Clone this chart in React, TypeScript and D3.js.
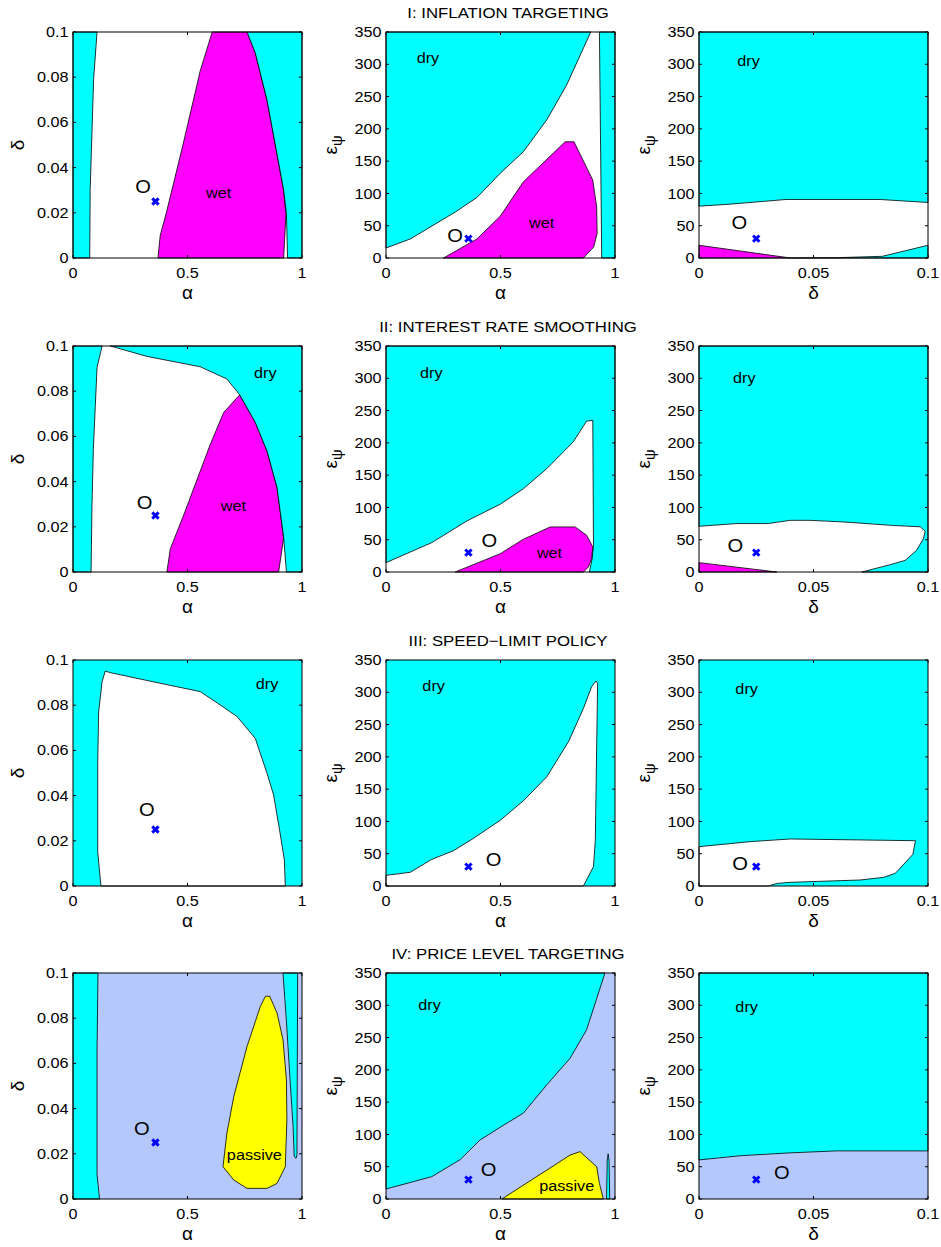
import React, { useEffect, useRef } from "react";
import * as d3 from "d3";

type Pt = [number, number];

const rowTitles = [
    "I: INFLATION TARGETING",
    "II: INTEREST RATE SMOOTHING",
    "III: SPEED\u2212LIMIT POLICY",
    "IV: PRICE LEVEL TARGETING",
];

const alphaTicks = [0, 0.5, 1];
const deltaTicks = [0, 0.02, 0.04, 0.06, 0.08, 0.1];
const deltaWideTicks = [0, 0.05, 0.1];
const epsTicks = [0, 50, 100, 150, 200, 250, 300, 350];

// estimated point (blue cross) in alpha / delta / eps_psi
const estAlpha = 0.36;
const estDelta = 0.025;
const estEps = 30;

// I: inflation targeting
const itAlphaDeltaDryLeft: Pt[] = [[0, 0], [0.073, 0], [0.075, 0.03], [0.09, 0.079], [0.105, 0.1], [0, 0.1]];
const itAlphaDeltaWet: Pt[] = [[0.608, 0.1], [0.76, 0.1], [0.796, 0.0907], [0.847, 0.07], [0.92, 0.03], [0.93, 0.0197], [0.92, 0], [0.371, 0], [0.381, 0.01], [0.41, 0.021], [0.48, 0.05], [0.556, 0.083]];
const itAlphaDeltaDryRight: Pt[] = [[0.76, 0.1], [1, 0.1], [1, 0], [0.937, 0], [0.932, 0.0197], [0.92, 0.03], [0.847, 0.07], [0.796, 0.0907]];
const itAlphaEpsDry: Pt[] = [[0, 15.5], [0.106, 29.5], [0.302, 71], [0.397, 93.7], [0.4985, 131], [0.6, 164.7], [0.702, 213.9], [0.789, 268], [0.894, 350], [0, 350]];
const itAlphaEpsDryRight: Pt[] = [[0.932, 350], [1, 350], [1, 0], [0.942, 0]];
const itAlphaEpsWet: Pt[] = [[0.251, 0], [0.397, 29.5], [0.4985, 64.7], [0.6, 118], [0.782, 180], [0.821, 180], [0.903, 120.6], [0.92, 79], [0.922, 37.8], [0.907, 17], [0.862, 0]];
const itDeltaEpsDry: Pt[] = [[0, 80.3], [0.0136, 83.4], [0.038, 90.6], [0.079, 90.6], [0.1, 86], [0.1, 350], [0, 350]];
const itDeltaEpsWet: Pt[] = [[0, 0], [0, 19.7], [0.04, 0]];
const itDeltaEpsDryLow: Pt[] = [[0.04, 0], [0.06, 0.5], [0.08, 2.6], [0.1, 19.7], [0.1, 0]];

// II: interest rate smoothing
const irsAlphaDeltaDryLeft: Pt[] = [[0, 0], [0.079, 0], [0.083, 0.03], [0.089, 0.0547], [0.105, 0.0905], [0.127, 0.1], [0, 0.1]];
const irsAlphaDeltaDryRight: Pt[] = [[0.163, 0.1], [1, 0.1], [1, 0], [0.932, 0], [0.92, 0.0152], [0.891, 0.0374], [0.847, 0.0536], [0.796, 0.0662], [0.728, 0.0784], [0.672, 0.0854], [0.556, 0.0908], [0.323, 0.0954]];
const irsAlphaDeltaWet: Pt[] = [[0.728, 0.0784], [0.796, 0.0662], [0.847, 0.0536], [0.891, 0.0374], [0.92, 0.0152], [0.898, 0], [0.41, 0], [0.425, 0.0103], [0.483, 0.0251], [0.6, 0.0566], [0.658, 0.0706]];
const irsAlphaEpsDry: Pt[] = [[0, 14.5], [0.2, 45.5], [0.353, 79], [0.499, 105], [0.6, 129], [0.702, 160], [0.818, 201.6], [0.876, 233.7], [0.903, 234.8], [0.906, 41], [0.9, 20], [0.888, 0], [1, 0], [1, 350], [0, 350]];
const irsAlphaEpsWet: Pt[] = [[0.302, 0], [0.499, 28.4], [0.6, 50.7], [0.717, 69.8], [0.826, 69.8], [0.876, 56.9], [0.903, 38.8], [0.898, 20.7], [0.884, 7.8], [0.862, 0]];
const irsDeltaEpsDry: Pt[] = [[0, 70.8], [0.0165, 75], [0.0303, 75], [0.0398, 80], [0.0485, 80], [0.063, 77.5], [0.085, 72], [0.0966, 70], [0.0988, 63], [0.098, 51.7], [0.095, 33.6], [0.09, 18], [0.0835, 11.4], [0.0711, 0], [0.1, 0], [0.1, 350], [0, 350]];
const irsDeltaEpsWet: Pt[] = [[0, 0], [0, 14.5], [0.034, 0]];

// III: speed-limit policy (white = determinate region on cyan)
const slAlphaDeltaOk: Pt[] = [[0.122, 0], [0.108, 0.0152], [0.108, 0.0543], [0.112, 0.077], [0.127, 0.0904], [0.141, 0.0951], [0.163, 0.0944], [0.367, 0.09], [0.556, 0.086], [0.643, 0.0801], [0.716, 0.075], [0.796, 0.0653], [0.847, 0.0499], [0.876, 0.0403], [0.902, 0.0248], [0.923, 0.0115], [0.927, 0]];
const slAlphaEpsOk: Pt[] = [[0, 0], [0, 16.5], [0.106, 21.2], [0.2, 41.3], [0.295, 54.7], [0.382, 73.8], [0.5, 102], [0.6, 132], [0.702, 169], [0.797, 223.5], [0.862, 275], [0.898, 308.7], [0.917, 317.5], [0.924, 314], [0.914, 71], [0.906, 30], [0.862, 0]];
const slDeltaEpsOk: Pt[] = [[0, 0], [0, 60.9], [0.0223, 68.7], [0.0398, 72.8], [0.0937, 70.2], [0.0945, 70.2], [0.0934, 49], [0.0857, 19.6], [0.0806, 13.4], [0.0704, 9.3], [0.0398, 5.7], [0.034, 4], [0.0303, 0]];

// IV: price level targeting
const pltAlphaDeltaDryLeft: Pt[] = [[0, 0], [0.116, 0], [0.105, 0.0108], [0.105, 0.0654], [0.109, 0.1], [0, 0.1]];
const pltAlphaDeltaDryRight: Pt[] = [[0.917, 0.1], [0.932, 0.0787], [0.946, 0.0557], [0.961, 0.032], [0.966, 0.0188], [0.974, 0.018], [0.978, 0.0196], [0.981, 0.1]];
const pltAlphaDeltaPassive: Pt[] = [[0.76, 0.0047], [0.702, 0.0084], [0.655, 0.0143], [0.672, 0.0291], [0.702, 0.0453], [0.76, 0.0675], [0.818, 0.0852], [0.84, 0.0897], [0.859, 0.0897], [0.891, 0.0823], [0.917, 0.0705], [0.932, 0.0527], [0.934, 0.035], [0.927, 0.0143], [0.891, 0.0069], [0.847, 0.0047]];
const pltAlphaEpsDry: Pt[] = [[0, 15.5], [0.2, 34.6], [0.324, 61], [0.411, 91.5], [0.506, 112.7], [0.6, 133], [0.702, 176.8], [0.804, 218], [0.876, 262], [0.956, 350], [0, 350]];
const pltAlphaEpsPassive: Pt[] = [[0.506, 0], [0.804, 68], [0.847, 73.4], [0.92, 50], [0.932, 24], [0.949, 0]];
const pltAlphaEpsDryThin: Pt[] = [[0.963, 0], [0.966, 60], [0.97, 70], [0.974, 60], [0.977, 0]];
const pltDeltaEpsDry: Pt[] = [[0, 60.5], [0.018, 67], [0.04, 71.5], [0.06, 74.5], [0.1, 74.5], [0.1, 350], [0, 350]];

const CYAN = "#00FFFF";
const MAGENTA = "#FF00FF";
const YELLOW = "#FFFF00";
const LIGHTBLUE = "#B4C8FC";

const FONT = "'Liberation Sans', Arial, Helvetica, sans-serif";
const textStretch = 1.12;

const colLeft = [73, 386, 699];
const rowTop = [32, 346, 660, 973];
const plotW = 229;
const plotH = 226;

const axes = {
    alpha: { domain: [0, 1], ticks: alphaTicks, label: "α" },
    delta: { domain: [0, 0.1], ticks: deltaTicks, label: "δ" },
    deltaWide: { domain: [0, 0.1], ticks: deltaWideTicks, label: "δ" },
    eps: { domain: [0, 350], ticks: epsTicks, label: "eps" },
};

const panels = [
    { row: 0, col: 0, x: axes.alpha, y: axes.delta, bg: "#fff", est: [estAlpha, estDelta],
      regions: [[itAlphaDeltaWet, MAGENTA], [itAlphaDeltaDryLeft, CYAN], [itAlphaDeltaDryRight, CYAN]],
      labels: [["wet", 0.636, 0.0286], ["O", 0.306, 0.0315]] },
    { row: 0, col: 1, x: axes.alpha, y: axes.eps, bg: "#fff", est: [estAlpha, estEps],
      regions: [[itAlphaEpsDry, CYAN], [itAlphaEpsDryRight, CYAN], [itAlphaEpsWet, MAGENTA]],
      labels: [["dry", 0.183, 310], ["wet", 0.68, 54], ["O", 0.302, 35]] },
    { row: 0, col: 2, x: axes.deltaWide, y: axes.eps, bg: "#fff", est: [estDelta, estEps],
      regions: [[itDeltaEpsDry, CYAN], [itDeltaEpsWet, MAGENTA], [itDeltaEpsDryLow, CYAN]],
      labels: [["dry", 0.0216, 304.5], ["O", 0.0176, 54]] },
    { row: 1, col: 0, x: axes.alpha, y: axes.delta, bg: "#fff", est: [estAlpha, estDelta],
      regions: [[irsAlphaDeltaWet, MAGENTA], [irsAlphaDeltaDryLeft, CYAN], [irsAlphaDeltaDryRight, CYAN]],
      labels: [["dry", 0.84, 0.0883], ["wet", 0.7, 0.0291], ["O", 0.313, 0.0307]] },
    { row: 1, col: 1, x: axes.alpha, y: axes.eps, bg: "#fff", est: [estAlpha, estEps],
      regions: [[irsAlphaEpsDry, CYAN], [irsAlphaEpsWet, MAGENTA]],
      labels: [["dry", 0.198, 307.6], ["wet", 0.714, 30], ["O", 0.451, 49]] },
    { row: 1, col: 2, x: axes.deltaWide, y: axes.eps, bg: "#fff", est: [estDelta, estEps],
      regions: [[irsDeltaEpsDry, CYAN], [irsDeltaEpsWet, MAGENTA]],
      labels: [["dry", 0.0198, 301], ["O", 0.0159, 41.4]] },
    { row: 2, col: 0, x: axes.alpha, y: axes.delta, bg: CYAN, est: [estAlpha, estDelta],
      regions: [[slAlphaDeltaOk, "#fff"]],
      labels: [["dry", 0.847, 0.0894], ["O", 0.323, 0.0339]] },
    { row: 2, col: 1, x: axes.alpha, y: axes.eps, bg: CYAN, est: [estAlpha, estEps],
      regions: [[slAlphaEpsOk, "#fff"]],
      labels: [["dry", 0.208, 309.8], ["O", 0.47, 41.3]] },
    { row: 2, col: 2, x: axes.deltaWide, y: axes.eps, bg: CYAN, est: [estDelta, estEps],
      regions: [[slDeltaEpsOk, "#fff"]],
      labels: [["dry", 0.0208, 305], ["O", 0.0179, 35]] },
    { row: 3, col: 0, x: axes.alpha, y: axes.delta, bg: LIGHTBLUE, est: [estAlpha, estDelta],
      regions: [[pltAlphaDeltaDryLeft, CYAN], [pltAlphaDeltaDryRight, CYAN], [pltAlphaDeltaPassive, YELLOW]],
      labels: [["passive", 0.792, 0.0196], ["O", 0.301, 0.0313]] },
    { row: 3, col: 1, x: axes.alpha, y: axes.eps, bg: LIGHTBLUE, est: [estAlpha, estEps],
      regions: [[pltAlphaEpsDry, CYAN], [pltAlphaEpsPassive, YELLOW], [pltAlphaEpsDryThin, CYAN]],
      labels: [["dry", 0.19, 301], ["passive", 0.789, 20.7], ["O", 0.448, 45.5]] },
    { row: 3, col: 2, x: axes.deltaWide, y: axes.eps, bg: LIGHTBLUE, est: [estDelta, estEps],
      regions: [[pltDeltaEpsDry, CYAN]],
      labels: [["dry", 0.0208, 298], ["O", 0.0362, 41.4]] },
];

const fmt = d3.format("~g");

const addText = (g, x, y, str, size, anchor = "middle") =>
    g
        .append("text")
        .attr("transform", `translate(${x},${y}) scale(${textStretch},1)`)
        .attr("text-anchor", anchor)
        .attr("font-size", size)
        .attr("font-family", FONT)
        .attr("fill", "#000")
        .text(str);

const App = () => {
    const svgRef = useRef(null);

    useEffect(() => {
        const svg = d3.select(svgRef.current);
        svg.selectAll("*").remove();

        rowTitles.forEach((t, i) => {
            addText(svg, 508, rowTop[i] - 14, t, 15);
        });

        panels.forEach((p) => {
            const left = colLeft[p.col];
            const top = rowTop[p.row];
            const xs = d3.scaleLinear().domain(p.x.domain).range([left, left + plotW]);
            const ys = d3.scaleLinear().domain(p.y.domain).range([top + plotH, top]);
            const g = svg.append("g");

            g.append("rect")
                .attr("x", left)
                .attr("y", top)
                .attr("width", plotW)
                .attr("height", plotH)
                .attr("fill", p.bg);

            const line = d3
                .line<Pt>()
                .x((d) => xs(d[0]))
                .y((d) => ys(d[1]))
                .curve(d3.curveLinearClosed);

            g.selectAll(".region")
                .data(p.regions)
                .enter()
                .append("path")
                .attr("class", "region")
                .attr("d", (d) => line(d[0] as Pt[]))
                .attr("fill", (d) => d[1] as string)
                .attr("stroke", "#000")
                .attr("stroke-width", 0.8)
                .attr("stroke-linejoin", "round");

            p.labels.forEach(([txt, lx, ly]) => {
                const big = txt === "O";
                addText(g, xs(lx as number), ys(ly as number), txt, big ? 18 : 14.5).attr("dy", "0.35em");
            });

            g.append("path")
                .attr("transform", `translate(${xs(p.est[0])},${ys(p.est[1])})`)
                .attr("d", d3.symbol(d3.symbolX, 28)())
                .attr("fill", "none")
                .attr("stroke", "#0000FF")
                .attr("stroke-width", 3);

            // frame
            g.append("rect")
                .attr("x", left)
                .attr("y", top)
                .attr("width", plotW)
                .attr("height", plotH)
                .attr("fill", "none")
                .attr("stroke", "#000")
                .attr("stroke-width", 1);

            const tickLen = 3;
            p.x.ticks.forEach((t) => {
                const x = xs(t);
                g.append("line").attr("x1", x).attr("x2", x).attr("y1", top + plotH).attr("y2", top + plotH - tickLen).attr("stroke", "#000");
                g.append("line").attr("x1", x).attr("x2", x).attr("y1", top).attr("y2", top + tickLen).attr("stroke", "#000");
                addText(g, x, top + plotH + 20, fmt(t), 14.5);
            });
            p.y.ticks.forEach((t) => {
                const y = ys(t);
                g.append("line").attr("x1", left).attr("x2", left + tickLen).attr("y1", y).attr("y2", y).attr("stroke", "#000");
                g.append("line").attr("x1", left + plotW).attr("x2", left + plotW - tickLen).attr("y1", y).attr("y2", y).attr("stroke", "#000");
                addText(g, left - 4.5, y, fmt(t), 14.5, "end").attr("dy", "0.35em");
            });

            // axis labels
            g.append("text")
                .attr("x", left + plotW / 2)
                .attr("y", top + plotH + 41)
                .attr("text-anchor", "middle")
                .attr("font-size", 19)
                .attr("font-family", FONT)
                .text(p.x.label);

            const yl = g
                .append("text")
                .attr("transform", `translate(${left - 49},${top + plotH / 2}) rotate(-90)`)
                .attr("text-anchor", "middle")
                .attr("font-size", 19)
                .attr("font-family", FONT);
            if (p.y.label === "eps") {
                yl.append("tspan").text("ε");
                yl.append("tspan").attr("font-size", 15).attr("dy", "0.3em").text("ψ");
            } else {
                yl.text(p.y.label);
            }
        });
    }, []);

    return (
        <svg
            ref={svgRef}
            width={941}
            height={1247}
            style={{ position: "absolute", left: 0, top: 0, background: "#fff" }}
        ></svg>
    );
};

export default App;
